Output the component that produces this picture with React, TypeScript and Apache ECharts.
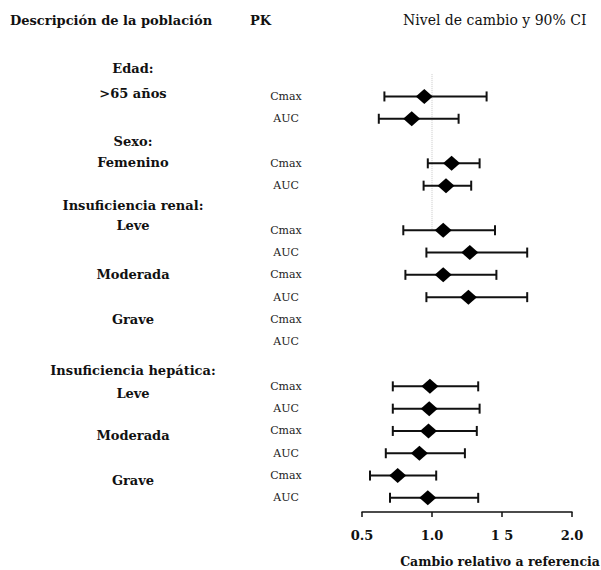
import React, { useEffect, useRef } from "react";
import * as echarts from "echarts";

const rowDescriptions = [
  "Edad:", ">65 años", "", "Sexo:", "Femenino", "", "Insuficiencia renal:",
  "Leve", "", "Moderada", "", "Grave", "", "Insuficiencia hepática:",
  "Leve", "", "Moderada", "", "Grave", "",
];
const pkLabels = [
  "", "Cmax", "AUC", "", "Cmax", "AUC", "", "Cmax", "AUC", "Cmax", "AUC",
  "Cmax", "AUC", "", "Cmax", "AUC", "Cmax", "AUC", "Cmax", "AUC",
];
const ratio = [
  null, 0.945, 0.855, null, 1.14, 1.10, null, 1.08, 1.27, 1.08, 1.26,
  null, null, null, 0.985, 0.98, 0.975, 0.91, 0.755, 0.97,
];
const lower = [
  null, 0.66, 0.62, null, 0.97, 0.94, null, 0.795, 0.96, 0.81, 0.96,
  null, null, null, 0.72, 0.72, 0.72, 0.67, 0.557, 0.70,
];
const upper = [
  null, 1.39, 1.19, null, 1.34, 1.28, null, 1.45, 1.68, 1.46, 1.68,
  null, null, null, 1.33, 1.34, 1.32, 1.235, 1.03, 1.33,
];
const xTicks = ["0.5", "1.0", "1 5", "2.0"];
const headers = ["Descripción de la población", "PK", "Nivel de cambio y 90% CI"];
const xAxisTitle = "Cambio relativo a referencia";

const FONT = "DejaVu Serif";
// vertical nudge (px, negative = up) of each description label, to follow the scanned layout
const labelNudge = [-6, -3, 0, 0, -1, 0, -2, -5, 0, 0, 0, 0, 0, 6, 7, 0, 5, 0, 5, 0];

export default function App() {
  const ref = useRef<HTMLDivElement>(null);
  useEffect(() => {
    const chart = echarts.init(ref.current!, null, { renderer: "svg" });
    const rowIds = rowDescriptions.map((_, i) => String(i));
    const points: any[] = [];
    const bars: any[] = [];
    ratio.forEach((v, i) => {
      if (v != null) points.push([v, i]);
      if (lower[i] != null && upper[i] != null) bars.push([lower[i], upper[i], i]);
    });
    const tickMap: Record<string, string> = { "0.5": xTicks[0], "1": xTicks[1], "1.5": xTicks[2], "2": xTicks[3] };
    const rich: Record<string, any> = {};
    labelNudge.forEach((n, i) => {
      rich["r" + i] = {
        fontFamily: FONT,
        fontWeight: "bold",
        fontSize: 13,
        color: "#111",
        padding: n < 0 ? [0, 0, -2 * n, 0] : [2 * n, 0, 0, 0],
      };
    });
    chart.setOption({
      animation: false,
      grid: { left: 362, right: 29, top: 63, bottom: 61, containLabel: false, outerBoundsMode: "none" },
      xAxis: {
        type: "value",
        min: 0.5,
        max: 2.0,
        interval: 0.5,
        offset: 3,
        splitLine: { show: false },
        axisLine: { show: true, lineStyle: { color: "#111", width: 1.5 } },
        axisTick: { show: true, length: 5, lineStyle: { color: "#111", width: 1.5 } },
        axisLabel: {
          margin: 17,
          color: "#111",
          fontFamily: FONT,
          fontWeight: "bold",
          fontSize: 13,
          formatter: (v: number) => tickMap[String(v)] ?? String(v),
        },
        name: xAxisTitle,
        nameLocation: "middle",
        nameGap: 43,
        nameTextStyle: {
          color: "#111",
          fontFamily: FONT,
          fontWeight: "bold",
          fontSize: 12.5,
          padding: [0, 0, 0, 66],
        },
      },
      yAxis: [
        {
          type: "category",
          data: rowIds,
          inverse: true,
          axisLine: { show: false },
          axisTick: { show: false },
          splitLine: { show: false },
          axisLabel: {
            align: "center",
            margin: 229,
            color: "#111",
            fontFamily: FONT,
            fontWeight: "bold",
            fontSize: 13,
            formatter: (_: string, i: number) =>
              rowDescriptions[i] ? `{r${i}|${rowDescriptions[i]}}` : "",
            rich,
          },
        },
        {
          type: "category",
          data: rowIds,
          inverse: true,
          position: "left",
          axisLine: { show: false },
          axisTick: { show: false },
          splitLine: { show: false },
          axisLabel: {
            align: "center",
            margin: 76,
            color: "#222",
            fontFamily: FONT,
            fontSize: 11,
            formatter: (_: string, i: number) => pkLabels[i],
          },
        },
      ],
      series: [
        {
          type: "custom",
          yAxisIndex: 0,
          data: bars,
          encode: { x: [0, 1], y: 2 },
          renderItem: (params: any, api: any) => {
            const row = api.value(2);
            const p1 = api.coord([api.value(0), row]);
            const p2 = api.coord([api.value(1), row]);
            const cap = 5;
            const style = { stroke: "#111", lineWidth: 2 };
            return {
              type: "group",
              children: [
                { type: "line", shape: { x1: p1[0], y1: p1[1], x2: p2[0], y2: p2[1] }, style },
                { type: "line", shape: { x1: p1[0], y1: p1[1] - cap, x2: p1[0], y2: p1[1] + cap }, style },
                { type: "line", shape: { x1: p2[0], y1: p2[1] - cap, x2: p2[0], y2: p2[1] + cap }, style },
              ],
            };
          },
          z: 2,
        },
        {
          type: "scatter",
          yAxisIndex: 0,
          data: points,
          symbol: "diamond",
          symbolSize: [17, 15],
          itemStyle: { color: "#000", opacity: 1 },
          z: 3,
        },
        {
          type: "line",
          yAxisIndex: 1,
          data: [[1, 0], [1, 7]],
          symbol: "none",
          lineStyle: { color: "#c8c8c8", type: "dotted", width: 1 },
          silent: true,
          z: 1,
        },
      ],
      graphic: [
        {
          type: "text", left: 10, top: 14,
          style: { text: headers[0], fontFamily: FONT, fontWeight: "bold", fontSize: 13, fill: "#111" },
        },
        {
          type: "text", left: 250, top: 14,
          style: { text: headers[1], fontFamily: FONT, fontWeight: "bold", fontSize: 13, fill: "#111" },
        },
        {
          type: "text", left: 403, top: 13,
          style: { text: headers[2], fontFamily: FONT, fontSize: 14, fill: "#111" },
        },
      ],
    });
    return () => chart.dispose();
  }, []);
  return (
    <div
      ref={ref}
      style={{ position: "fixed", left: 0, top: 0, width: 601, height: 570, background: "#fff" }}
    />
  );
}
